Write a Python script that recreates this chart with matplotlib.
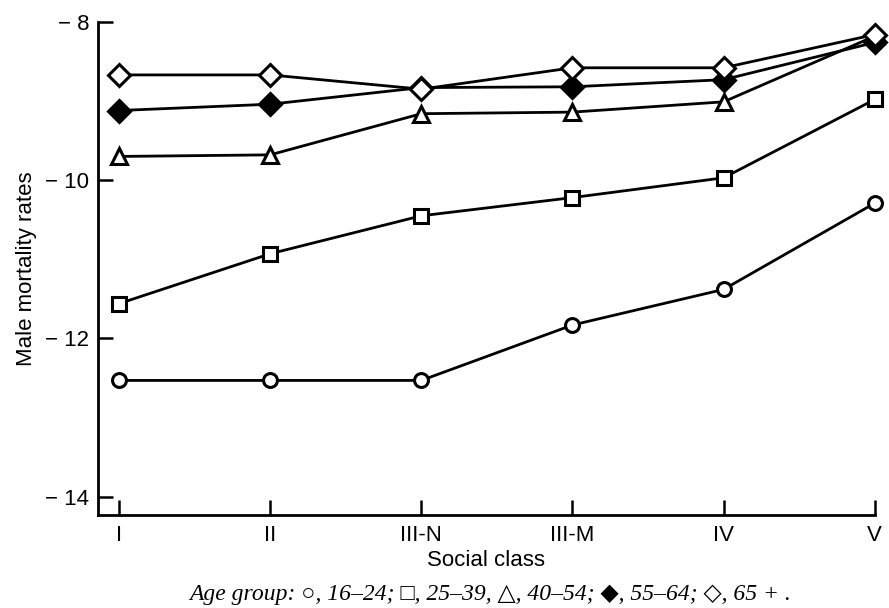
import matplotlib
matplotlib.use("Agg")
import matplotlib.pyplot as plt

plt.rcParams['font.family'] = ['Liberation Sans', 'DejaVu Sans']

classes = ['I', 'II', 'III-N', 'III-M', 'IV', 'V']

# log male mortality rates by age group
age_16_24 = [-12.53, -12.53, -12.53, -11.83, -11.38, -10.29]
age_25_39 = [-11.56, -10.93, -10.45, -10.22, -9.97, -8.98]
age_40_54 = [-9.70, -9.68, -9.16, -9.14, -9.01, -8.18]
age_55_64 = [-9.12, -9.04, -8.83, -8.82, -8.73, -8.26]
age_65_up = [-8.67, -8.67, -8.85, -8.58, -8.58, -8.16]

yticks = [-8, -10, -12, -14]
ytick_labels = ['\u2212 8', '\u2212 10', '\u2212 12', '\u2212 14']

fig = plt.figure(figsize=(8.89, 6.08), dpi=100)
ax = fig.add_axes([0.110, 0.153, 0.874, 0.811])

x = list(range(len(classes)))
series = [
    (age_16_24, 'o', 'white', 10),
    (age_25_39, 's', 'white', 10),
    (age_40_54, '^', 'white', 11),
    (age_55_64, 'D', 'black', 11),
    (age_65_up, 'D', 'white', 11),
]
for vals, mk, fc, ms in series:
    ax.plot(x, vals, color='black', lw=2.0, marker=mk, markersize=ms,
            markerfacecolor=fc, markeredgecolor='black', markeredgewidth=2.2,
            clip_on=False, zorder=3)

ax.set_xlim(-0.14, 5)
ax.set_ylim(-14.23, -8)
ax.set_xticks(x)
ax.set_xticklabels(classes, fontsize=16)
ax.set_yticks(yticks)
ax.set_yticklabels(ytick_labels, fontsize=16)
ax.tick_params(axis='both', direction='in', length=11, width=1.8, color='black')
ax.tick_params(axis='x', pad=7)
ax.tick_params(axis='y', pad=6)

for side in ['top', 'right']:
    ax.spines[side].set_visible(False)
for side in ['left', 'bottom']:
    ax.spines[side].set_linewidth(2.0)

ax.set_xlabel('Social class', fontsize=16, labelpad=3)
ax.set_ylabel('Male mortality rates', fontsize=16, labelpad=6)

fig.text(0.551, 0.023,
         'Age group: \u25cb, 16\u201324; \u25a1, 25\u201339, \u25b3, 40\u201354; '
         '\u25c6, 55\u201364; \u25c7, 65 + .',
         ha='center', va='center', fontsize=17, style='italic',
         family=['Liberation Serif', 'DejaVu Sans'])

fig.savefig('out.png', dpi=100)
